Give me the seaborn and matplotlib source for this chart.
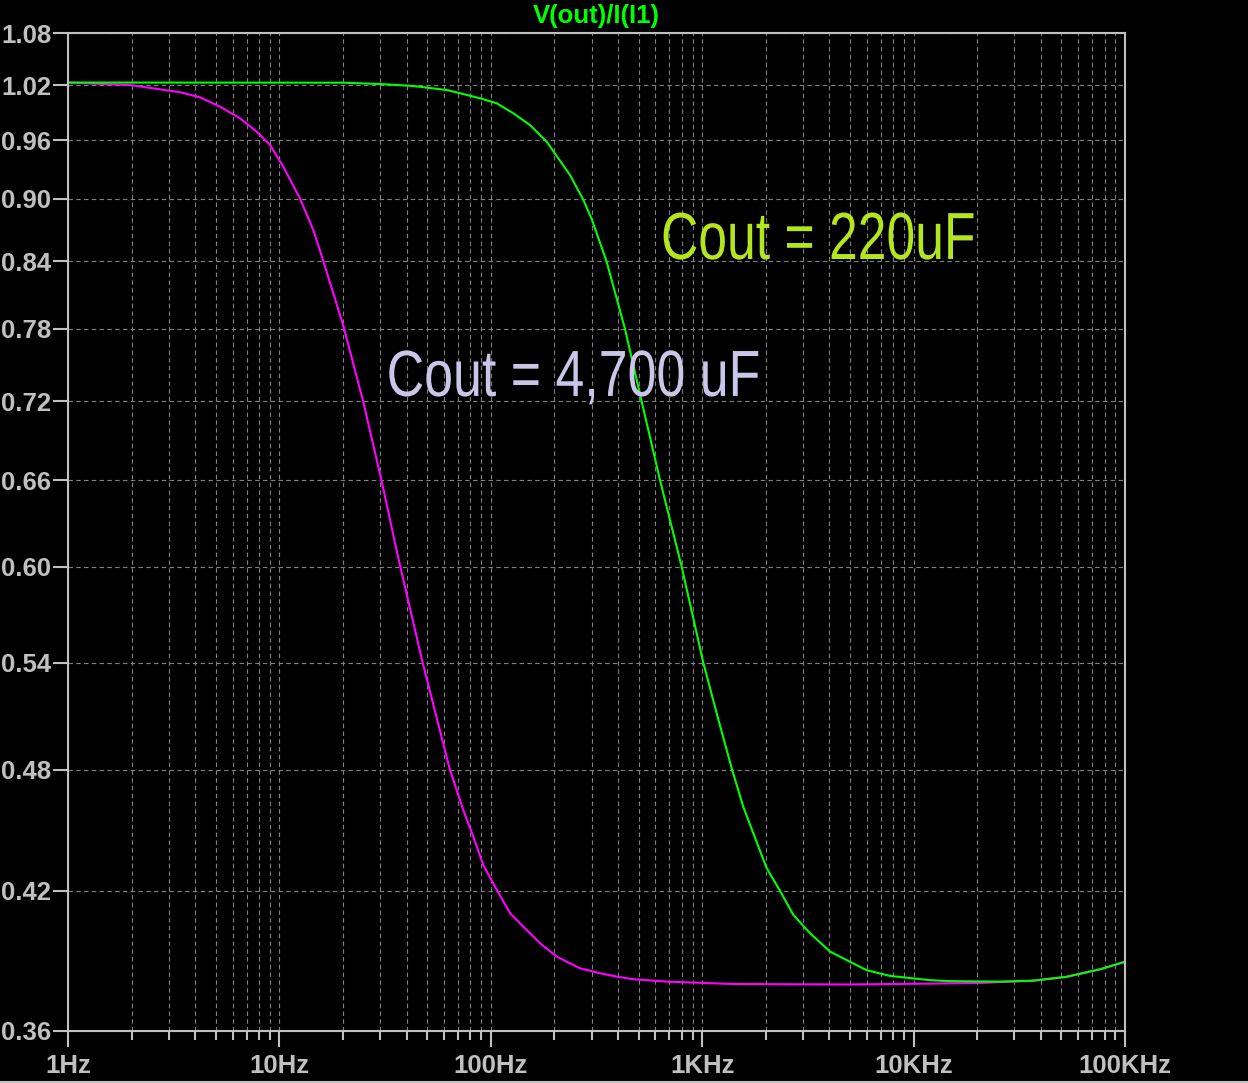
import numpy as np
import pandas as pd
import matplotlib.pyplot as plt
import seaborn as sns
from matplotlib.ticker import FixedLocator, FixedFormatter, NullLocator, NullFormatter, LogLocator
from matplotlib.lines import Line2D
from matplotlib.patheffects import AbstractPathEffect
from matplotlib.transforms import Affine2D

# values
freq_4700 = [1, 2, 2.72, 3.39, 4.21, 5.24, 6.51, 7.81, 9.03, 10.43, 12.5, 14.47, 16.1,
             20.1, 24.9, 30.5, 36.5, 47.6, 64, 66.5, 74.1, 82.7, 92.1, 104.7, 123.3,
             142.5, 170.9, 205, 264, 329, 394, 472, 679, 1403, 5000, 20000, 36800,
             52800, 76200, 100000]
gain_4700 = [1.023, 1.020, 1.0154, 1.0121, 1.0065, 0.9961, 0.9835, 0.9690, 0.955, 0.9325,
             0.9005, 0.8696, 0.841, 0.782, 0.720, 0.659, 0.606, 0.540, 0.480, 0.4745,
             0.4590, 0.4457, 0.4321, 0.4219, 0.4097, 0.4037, 0.3964, 0.3906, 0.3856,
             0.3835, 0.3821, 0.3810, 0.3800, 0.3790, 0.3788, 0.3794, 0.3804, 0.382,
             0.3852, 0.3884]

freq_220 = [1, 20, 30, 43, 61.9, 71.5, 88.9, 106.6, 127.8, 153.2, 183.8, 236.9, 274,
            301.2, 353, 431, 517, 632, 800, 1012, 1171, 1384, 1564, 1745, 2018, 2333,
            2698, 3236, 4023, 5003, 5998, 7735, 11956, 14860, 25630, 36800, 52800,
            76200, 100000]
gain_220 = [1.023, 1.0228, 1.0213, 1.0191, 1.0146, 1.011, 1.0054, 0.9999, 0.9889, 0.9762,
            0.9585, 0.9239, 0.899, 0.8793, 0.840, 0.780, 0.720, 0.660, 0.600, 0.540,
            0.5106, 0.480, 0.4607, 0.4474, 0.4306, 0.420, 0.409, 0.4008, 0.3928, 0.3884,
            0.3848, 0.3824, 0.3806, 0.3802, 0.3800, 0.3804, 0.382, 0.3852, 0.3884]

y_ticks = [0.36, 0.42, 0.48, 0.54, 0.60, 0.66, 0.72, 0.78, 0.84, 0.90, 0.96, 1.02, 1.08]
x_ticks = [1, 10, 100, 1000, 10000, 100000]
x_labels = ["1Hz", "10Hz", "100Hz", "1KHz", "10KHz", "100KHz"]

df = pd.concat([
    pd.DataFrame({"freq": freq_4700, "gain": gain_4700, "cout": "4700uF"}),
    pd.DataFrame({"freq": freq_220, "gain": gain_220, "cout": "220uF"}),
])


class Narrow(AbstractPathEffect):
    """squeeze text horizontally (no narrow font installed)"""
    def __init__(self, sx):
        super().__init__()
        self.sx = sx

    def draw_path(self, renderer, gc, tpath, affine, rgbFace=None):
        renderer.draw_path(gc, tpath, Affine2D().scale(self.sx, 1) + affine, rgbFace)


sns.set_style("dark", rc={"axes.facecolor": "black", "figure.facecolor": "black"})
plt.rcParams['font.family'] = ['Liberation Sans', 'DejaVu Sans']

fg = "#c0c0c0"
fig = plt.figure(figsize=(12.48, 10.83), dpi=100)
ax = fig.add_axes([0.05449, 0.04829, 0.84696, 0.92096])

sns.lineplot(data=df, x="freq", y="gain", hue="cout",
             palette={"4700uF": "#ff00ff", "220uF": "#00ff00"},
             estimator=None, sort=False, legend=False, linewidth=1.5, ax=ax)

ax.set_xscale("log")
ax.set_yscale("log")
ax.set_xlim(1, 100000)
ax.set_ylim(0.36, 1.08)

ax.yaxis.set_major_locator(FixedLocator(y_ticks))
ax.yaxis.set_major_formatter(FixedFormatter([f"{v:.2f}" for v in y_ticks]))
ax.yaxis.set_minor_locator(NullLocator())
ax.xaxis.set_major_locator(FixedLocator(x_ticks))
ax.xaxis.set_major_formatter(FixedFormatter(x_labels))
ax.xaxis.set_minor_locator(LogLocator(base=10, subs=np.arange(2, 10)))
ax.xaxis.set_minor_formatter(NullFormatter())
ax.set_xlabel("")
ax.set_ylabel("")

# dashed grid like LTspice
ax.grid(which="major", axis="both", color="#808080", linestyle=(0, (4, 3)), linewidth=0.8)
ax.grid(which="minor", axis="x", color="#808080", linestyle=(0, (4, 3)), linewidth=0.8)
ax.set_axisbelow(True)

for sp in ax.spines.values():
    sp.set_color(fg)
    sp.set_linewidth(1.5)
    sp.set_visible(True)

ax.tick_params(axis="x", which="major", direction="out", length=11.5, width=1.5,
               colors=fg, labelsize=18.5, pad=5, bottom=True)
ax.tick_params(axis="x", which="minor", direction="out", length=6.5, width=1.5,
               colors=fg, bottom=True)
ax.tick_params(axis="y", which="major", direction="out", length=11, width=1.5,
               colors=fg, labelsize=18.5, pad=1, left=True)
for lab in ax.get_xticklabels() + ax.get_yticklabels():
    lab.set_fontweight("bold")

fig.text(596.5 / 1248, 1 - 16.5 / 1083, "V(out)/I(I1)", color="#00ff00",
         fontsize=18.5, fontweight="bold", ha="center", va="center")

ax.text(0.561, 0.7737, "Cout = 220uF", transform=ax.transAxes, color="#b5e51d",
        fontsize=48, ha="left", va="baseline", path_effects=[Narrow(0.775)])
ax.text(0.3015, 0.6364, "Cout = 4,700 uF", transform=ax.transAxes, color="#c9c6e8",
        fontsize=47, ha="left", va="baseline", path_effects=[Narrow(0.795)])

# window frame line at the bottom
fig.add_artist(Line2D([0, 1], [1.5 / 1083, 1.5 / 1083], color=fg, linewidth=1.5,
                      transform=fig.transFigure))

fig.savefig("out.png", dpi=100, facecolor="black")
